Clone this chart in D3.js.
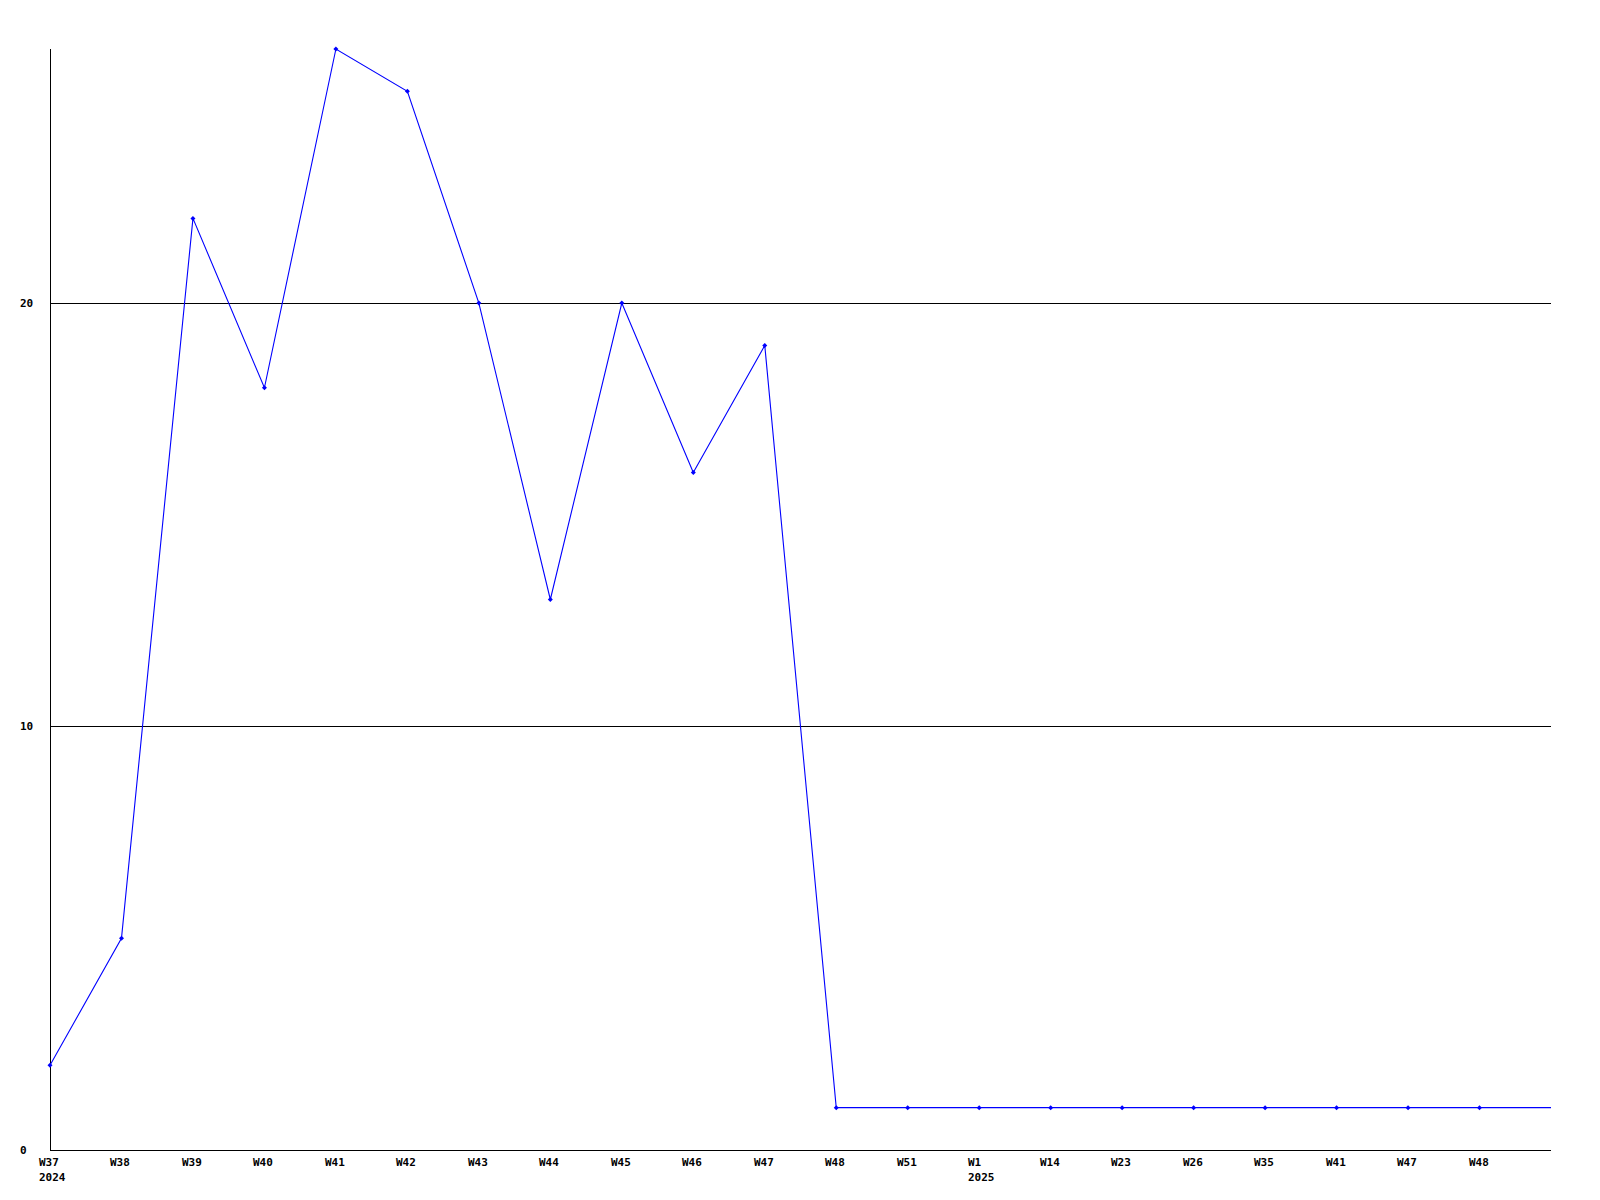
<!DOCTYPE html>
<html>
<head>
<meta charset="utf-8">
<script src="https://cdn.jsdelivr.net/npm/d3@7"></script>
<style>
  body { margin: 0; background: #fff; }
  svg text { font-family: "DejaVu Sans Mono", "Liberation Mono", monospace; font-weight: bold; font-size: 11px; fill: #000; }
</style>
</head>
<body>
<div id="chart"></div>
<script>
// weeks along the bottom, with the year shown under the first week of each year
const weeks = ['W37', 'W38', 'W39', 'W40', 'W41', 'W42', 'W43', 'W44', 'W45', 'W46', 'W47',
  'W48', 'W51', 'W1', 'W14', 'W23', 'W26', 'W35', 'W41', 'W47', 'W48'];
const years = ['2024', '', '', '', '', '', '', '', '', '', '',
  '', '', '2025', '', '', '', '', '', '', ''];
const counts = [2, 5, 22, 18, 26, 25, 20, 13, 20, 16, 19,
  1, 1, 1, 1, 1, 1, 1, 1, 1, 1];
const yTicks = [0, 10, 20];

let svgDimensions = [1600, 1200];
let margin = {top: 49, right: 49, bottom: 50, left: 50};

let svg = d3.select('#chart')
  .append('svg')
    .attr('width', svgDimensions[0])
    .attr('height', svgDimensions[1]);

// one extra slot on the right: the line runs on to the edge of the plot
let x = d3.scaleLinear()
  .domain([0, weeks.length])
  .range([margin.left, svgDimensions[0] - margin.right]);
let y = d3.scaleLinear()
  .domain([0, d3.max(counts)])
  .range([svgDimensions[1] - margin.bottom, margin.top]);

// horizontal grid lines
svg.selectAll('.grid')
  .data(yTicks.filter(d => d > 0))
  .enter()
  .append('line')
    .attr('x1', x(0))
    .attr('x2', x(weeks.length))
    .attr('y1', d => Math.floor(y(d)) + 0.5)
    .attr('y2', d => Math.floor(y(d)) + 0.5)
    .attr('stroke', '#000')
    .attr('shape-rendering', 'crispEdges');

// axes
svg.append('line')
  .attr('x1', x(0) + 0.5).attr('x2', x(0) + 0.5)
  .attr('y1', y(d3.max(counts))).attr('y2', y(0))
  .attr('stroke', '#000')
  .attr('shape-rendering', 'crispEdges');
svg.append('line')
  .attr('x1', x(0)).attr('x2', x(weeks.length))
  .attr('y1', Math.floor(y(0)) + 0.5).attr('y2', Math.floor(y(0)) + 0.5)
  .attr('stroke', '#000')
  .attr('shape-rendering', 'crispEdges');

// y labels
svg.selectAll('.ylabel')
  .data(yTicks)
  .enter()
  .append('text')
    .attr('x', 20)
    .attr('y', d => Math.floor(y(d)) + 4)
    .text(d => d);

// x labels
let xl = svg.selectAll('.xlabel')
  .data(weeks)
  .enter()
  .append('g')
    .attr('transform', (d, i) => `translate(${Math.round(x(i)) - 11},0)`);
xl.append('text')
  .attr('y', y(0) + 16)
  .text(d => d);
xl.append('text')
  .attr('y', y(0) + 31)
  .text((d, i) => years[i]);

// the line, carried on flat to the right edge
let pts = counts.map((c, i) => [x(i), y(c)]);
pts.push([x(weeks.length), y(counts[counts.length - 1])]);
svg.append('path')
  .attr('d', d3.line()(pts))
  .attr('fill', 'none')
  .attr('stroke', '#0000ff')
  .attr('stroke-width', 1.1);

// point markers
svg.selectAll('.marker')
  .data(counts)
  .enter()
  .append('path')
    .attr('d', (d, i) => {
      let cx = x(i), cy = y(d), r = 2.5;
      return `M${cx},${cy - r}L${cx + r},${cy}L${cx},${cy + r}L${cx - r},${cy}Z`;
    })
    .attr('fill', '#0000ff');
</script>
</body>
</html>
